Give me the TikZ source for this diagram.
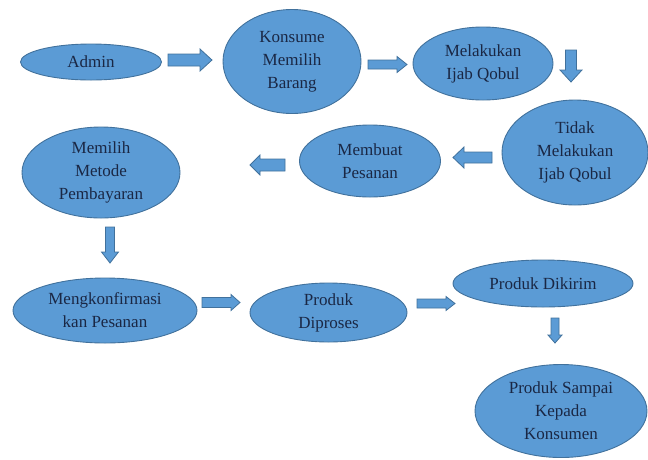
\documentclass[tikz,border=0pt]{standalone}
\usepackage{fontspec}
\newfontfamily\tnrfont{Liberation Serif}
\definecolor{bfill}{HTML}{5B9BD5}
\definecolor{bline}{HTML}{41719C}
\definecolor{btext}{HTML}{1A2744}
\tikzset{
  bubshape/.style={fill=bfill, draw=bline, line width=0.9pt},
  lbl/.style={align=center, text=btext, font=\tnrfont\fontsize{17}{23}\selectfont},
  pics/blockarrow/.style n args={4}{code={
    \path[fill=bfill, draw=bline, line width=0.8pt]
      (-#1/2,-#3/2) -- (#1/2-#4,-#3/2) -- (#1/2-#4,-#2/2) -- (#1/2,0)
      -- (#1/2-#4,#2/2) -- (#1/2-#4,#3/2) -- (-#1/2,#3/2) -- cycle;
  }},
}
\begin{document}
\begin{tikzpicture}[x=1pt,y=-1pt]
\useasboundingbox (0,0) rectangle (648,459);
% ellipse centres
\coordinate (c1) at (91,62);
\coordinate (c2) at (292,61.5);
\coordinate (c3) at (483,63.5);
\coordinate (c4) at (575,152.5);
\coordinate (c5) at (370,161);
\coordinate (c6) at (101,172.5);
\coordinate (c7) at (105,310.5);
\coordinate (c8) at (328.5,312.5);
\coordinate (c9) at (543,283.5);
\coordinate (c10) at (561,411);
% ellipses
\draw[bubshape] (c1) ellipse [x radius=70.5, y radius=18];
\draw[bubshape] (c2) ellipse [x radius=69, y radius=52];
\draw[bubshape] (c3) ellipse [x radius=70, y radius=36.5];
\draw[bubshape] (c4) ellipse [x radius=73, y radius=52.5];
\draw[bubshape] (c5) ellipse [x radius=70.5, y radius=36];
\draw[bubshape] (c6) ellipse [x radius=79, y radius=45.5];
\draw[bubshape] (c7) ellipse [x radius=92, y radius=32.5];
\draw[bubshape] (c8) ellipse [x radius=78.5, y radius=29.5];
\draw[bubshape] (c9) ellipse [x radius=90, y radius=23.5];
\draw[bubshape] (c10) ellipse [x radius=86, y radius=46.5];
% labels
\node[lbl] (admin) at (c1) {Admin};
\node[lbl] (konsume) at (c2) {Konsume\\Memilih\\Barang};
\node[lbl] (ijab) at (c3) {Melakukan\\Ijab Qobul};
\node[lbl] (tidak) at (c4) {Tidak\\Melakukan\\Ijab Qobul};
\node[lbl] (pesan) at (c5) {Membuat\\Pesanan};
\node[lbl] (metode) at (c6) {Memilih\\Metode\\Pembayaran};
\node[lbl] (konf) at (c7) {Mengkonfirmasi\\kan Pesanan};
\node[lbl] (proses) at (c8) {Produk\\Diproses};
\node[lbl] (kirim) at (c9) {Produk Dikirim};
\node[lbl] (sampai) at (c10) {Produk Sampai\\Kepada\\Konsumen};
% block arrows (length, head width, shaft width, head length)
\coordinate (a1) at (190,60);
\coordinate (a2) at (387.5,64.5);
\coordinate (a3) at (571,66);
\coordinate (a4) at (472.5,157.5);
\coordinate (a5) at (267.5,165);
\coordinate (a6) at (110,245);
\coordinate (a7) at (221,302.5);
\coordinate (a8) at (436,303.5);
\coordinate (a9) at (555,330.5);
\pic at (a1) {blockarrow={44}{22}{12}{12}};
\pic at (a2) {blockarrow={39}{16}{9}{10}};
\pic[rotate=-90] at (a3) {blockarrow={32}{22}{11}{12}};
\pic[rotate=180] at (a4) {blockarrow={39}{21}{11}{11}};
\pic[rotate=180] at (a5) {blockarrow={35}{20}{12}{10}};
\pic[rotate=-90] at (a6) {blockarrow={36}{17}{9}{11}};
\pic at (a7) {blockarrow={38}{16}{10}{9}};
\pic at (a8) {blockarrow={38}{14}{9}{9}};
\pic[rotate=-90] at (a9) {blockarrow={25}{14}{8}{8}};
\end{tikzpicture}
\end{document}
